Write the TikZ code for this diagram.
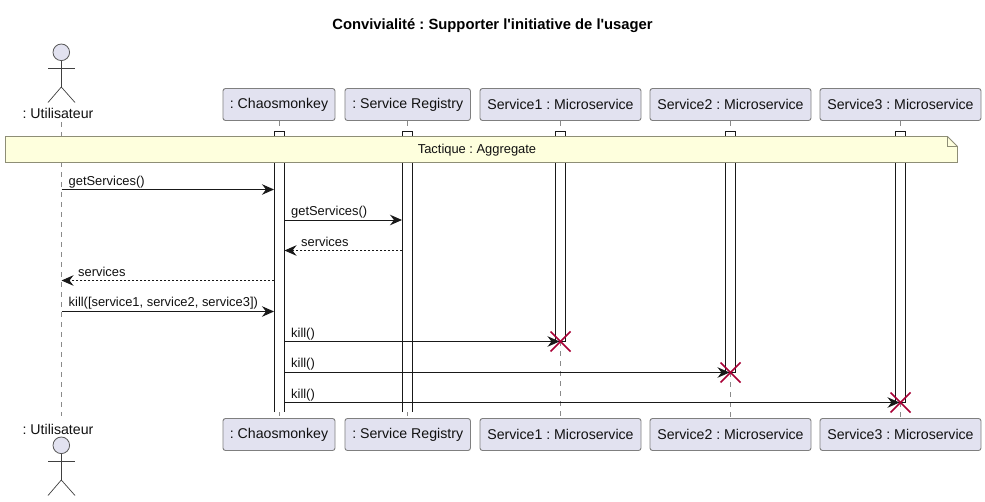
\documentclass[tikz,border=0pt]{standalone}
\usepackage{fontspec}
\setmainfont{Liberation Sans}[Ligatures=TeXOff]
\frenchspacing
\usetikzlibrary{arrows.meta}
\definecolor{partfill}{HTML}{E2E2F0}
\definecolor{partline}{HTML}{7F7F7F}
\definecolor{lifecol}{HTML}{8A8A8A}
\definecolor{notefill}{HTML}{FEFFDD}
\definecolor{notedraw}{HTML}{8E8E76}
\definecolor{txt}{HTML}{111111}
\definecolor{killcol}{HTML}{A80036}
\tikzset{
  x=1pt,y=-1pt,
  part/.style={draw=partline,fill=partfill,rounded corners=2.5pt,line width=0.9pt,minimum height=32pt,inner sep=0pt,text=txt,font=\fontsize{14.15}{16}\selectfont,anchor=center},
  lbl/.style={inner sep=0pt,text=txt,font=\fontsize{14.15}{16}\selectfont},
  msgl/.style={inner sep=0pt,anchor=base west,text=txt,font=\fontsize{12.9}{14}\selectfont},
  life/.style={draw=lifecol,line width=0.9pt,dash pattern=on 5pt off 5pt},
  bar/.style={draw=black!90,fill=white,line width=1pt},
  msg/.style={draw=black!90,line width=1pt,-{Stealth[length=12pt,width=10.5pt,inset=4pt]}},
  ret/.style={draw=black!90,line width=1pt,dash pattern=on 2pt off 2pt,-{Stealth[length=12pt,width=10.5pt,inset=4pt,sep=0pt]}},
  kill/.style={draw=killcol,line width=1.6pt},
  actor/.style={draw=black!75,line width=0.7pt},
  actorhead/.style={draw=black!65,fill=partfill,line width=0.8pt}
}
\begin{document}
\begin{tikzpicture}
\useasboundingbox (0,0) rectangle (985,501);
\fill[white] (0,0) rectangle (985,501);
\node[inner sep=0pt,font=\bfseries\fontsize{14.8}{16}\selectfont] (title) at (492.5,25.5) {Convivialité : Supporter l'initiative de l'usager};

% participants
\node[part,minimum width=112pt] (cT) at (279,104.5) {: Chaosmonkey};
\node[part,minimum width=125.5pt] (rT) at (407.7,104.5) {: Service Registry};
\node[part,minimum width=161pt] (aT) at (560.5,104.5) {Service1 : Microservice};
\node[part,minimum width=161pt] (bT) at (730.5,104.5) {Service2 : Microservice};
\node[part,minimum width=161pt] (dT) at (900.5,104.5) {Service3 : Microservice};
\node[part,minimum width=112pt] (cB) at (279,434.5) {: Chaosmonkey};
\node[part,minimum width=125.5pt] (rB) at (407.7,434.5) {: Service Registry};
\node[part,minimum width=161pt] (aB) at (560.5,434.5) {Service1 : Microservice};
\node[part,minimum width=161pt] (bB) at (730.5,434.5) {Service2 : Microservice};
\node[part,minimum width=161pt] (dB) at (900.5,434.5) {Service3 : Microservice};
\node[lbl] (uT) at (58,113) {: Utilisateur};
\node[lbl] (uB) at (58,429) {: Utilisateur};

% actors
\foreach \oy/\nm in {0/t,393/b}{
  \draw[actorhead] (61.3,52.3+\oy) circle (8.3pt);
  \draw[actor] (61.3,60.6+\oy) -- (61.3,87+\oy);
  \draw[actor] (48,68+\oy) -- (75,68+\oy);
  \draw[actor] (48,102.5+\oy) -- (61.3,87+\oy) -- (75,102.5+\oy);
}

% lifelines
\coordinate (uL1) at (61.5,122);
\coordinate (uL2) at (61.5,416);
\coordinate (cL1) at (279,121); \coordinate (cL2) at (279,419);
\coordinate (rL1) at (407,121); \coordinate (rL2) at (407,419);
\coordinate (aE) at (560.5,341);
\coordinate (bE) at (730.5,372);
\coordinate (dE) at (900.5,402);
\draw[life] (uL1) -- (uL2);
\draw[life] (cL1) -- (cL2);
\draw[life] (rL1) -- (rL2);
\draw[life] (aE) -- (aB);
\draw[life] (bE) -- (bB);
\draw[life] (dE) -- (dB);
\draw[life] (aT) -- (aE);
\draw[life] (bT) -- (bE);
\draw[life] (dT) -- (dE);

% activation bars
\path[bar] (274,412) -- (274,131.5) -- (284,131.5) -- (284,412);
\path[bar] (402,412) -- (402,131.5) -- (412,131.5) -- (412,412);
\path[bar] (555,341) rectangle (565,131.5);
\path[bar] (725,372) rectangle (735,131.5);
\path[bar] (895,402) rectangle (905,131.5);

% note
\draw[fill=notefill,draw=notedraw,line width=0.9pt] (5.5,136.5) -- (947.5,136.5) -- (957.5,146.5) -- (957.5,162.5) -- (5.5,162.5) -- cycle;
\draw[draw=notedraw,line width=0.9pt] (947.5,136.5) -- (947.5,146.5) -- (957.5,146.5);
\node[inner sep=0pt,text=txt,font=\fontsize{12.9}{14}\selectfont] (note) at (477,150.5) {Tactique : Aggregate};

% messages
\coordinate (m1a) at (61.5,189.5); \coordinate (m1b) at (274,189.5);
\coordinate (m2a) at (284,220); \coordinate (m2b) at (402,220);
\coordinate (m3a) at (402,250.5); \coordinate (m3b) at (284.5,250.5);
\coordinate (m4a) at (274,280.5); \coordinate (m4b) at (61.5,280.5);
\coordinate (m5a) at (61.5,311.5); \coordinate (m5b) at (274,311.5);
\coordinate (m6a) at (284,341.5); \coordinate (m6b) at (559.5,341.5);
\coordinate (m7a) at (284,372.5); \coordinate (m7b) at (729.5,372.5);
\coordinate (m8a) at (284,402.5); \coordinate (m8b) at (899.5,402.5);
\draw[msg] (m1a) -- (m1b);
\draw[msg] (m2a) -- (m2b);
\draw[ret] (m3a) -- (m3b);
\draw[ret] (m4a) -- (m4b);
\draw[msg] (m5a) -- (m5b);
\draw[msg] (m6a) -- (m6b);
\draw[msg] (m7a) -- (m7b);
\draw[msg] (m8a) -- (m8b);

\node[msgl] (l1) at (68.5,185) {getServices()};
\node[msgl] (l2) at (291,215.5) {getServices()};
\node[msgl] (l3) at (301,246) {services};
\node[msgl] (l4) at (78,276) {services};
\node[msgl] (l5) at (68.5,306.5) {kill([service1, service2, service3])};
\node[msgl] (l6) at (291,337) {kill()};
\node[msgl] (l7) at (291,367) {kill()};
\node[msgl] (l8) at (291,398) {kill()};

% destroy marks
\foreach \cx/\cy in {560.5/341.5,730.5/372.5,900.5/402.5}{
  \draw[kill] (\cx-10,\cy-10) -- (\cx+10,\cy+10);
  \draw[kill] (\cx-10,\cy+10) -- (\cx+10,\cy-10);
}
\end{tikzpicture}
\end{document}
